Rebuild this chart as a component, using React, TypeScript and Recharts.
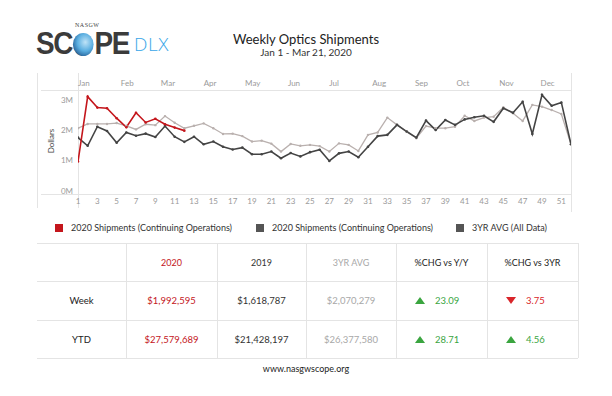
import React from 'react';
import { LineChart, Line, XAxis, YAxis } from 'recharts';

// ---- data (values in millions of dollars) ----
const weeks = Array.from({ length: 52 }, (_, i) => i + 1);
const shipments2020 = [0.97, 3.11, 2.75, 2.73, 2.40, 2.10, 2.58, 2.26, 2.38, 2.20, 2.09, 1.99];
const shipments2019 = [1.76, 1.49, 2.12, 1.98, 1.59, 1.93, 1.82, 1.89, 1.78, 2.14, 1.79, 1.62, 1.79, 1.54, 1.63, 1.46, 1.37, 1.43, 1.21, 1.21, 1.30, 1.08, 1.25, 1.14, 1.28, 1.36, 0.99, 1.24, 1.30, 1.11, 1.46, 1.81, 1.85, 2.18, 1.96, 1.76, 2.32, 2.01, 2.34, 2.18, 2.36, 2.43, 2.48, 2.28, 2.73, 2.58, 2.94, 1.88, 3.17, 2.81, 2.92, 1.54];
const avg3yr = [2.07, 2.21, 2.21, 2.21, 2.24, 2.15, 2.03, 2.20, 2.17, 2.47, 2.25, 2.07, 2.15, 2.23, 2.07, 1.88, 1.89, 1.81, 1.63, 1.66, 1.56, 1.30, 1.55, 1.49, 1.52, 1.48, 1.30, 1.57, 1.52, 1.32, 1.85, 1.93, 2.42, 2.18, 1.96, 1.74, 2.14, 2.07, 2.07, 2.12, 2.48, 2.31, 2.42, 2.45, 2.76, 2.56, 2.31, 2.84, 2.78, 2.67, 2.54, 1.54];

const monthNames = ['Jan', 'Feb', 'Mar', 'Apr', 'May', 'Jun', 'Jul', 'Aug', 'Sep', 'Oct', 'Nov', 'Dec'];
const monthStartDays = [1, 32, 61, 92, 122, 153, 183, 214, 245, 275, 306, 336];
const weekTicks = [1, 3, 5, 7, 9, 11, 13, 15, 17, 19, 21, 23, 25, 27, 29, 31, 33, 35, 37, 39, 41, 43, 45, 47, 49, 51];
const yTicks = [0, 1, 2, 3];

const legendItems = [
  { label: '2020 Shipments (Continuing Operations)', color: '#c4161c' },
  { label: '2020 Shipments (Continuing Operations)', color: '#555555' },
  { label: '3YR AVG (All Data)', color: '#555555' },
];

const tableHeaders = ['', '2020', '2019', '3YR AVG', '%CHG vs Y/Y', '%CHG vs 3YR'];
const tableRows = [
  { label: 'Week', v2020: '$1,992,595', v2019: '$1,618,787', avg: '$2,070,279', yy: { up: true, val: '23.09' }, y3: { up: false, val: '3.75' } },
  { label: 'YTD', v2020: '$27,579,689', v2019: '$21,428,197', avg: '$26,377,580', yy: { up: true, val: '28.71' }, y3: { up: true, val: '4.56' } },
];

const data = weeks.map((w, i) => ({
  week: w,
  s2020: i < shipments2020.length ? shipments2020[i] : null,
  s2019: shipments2019[i],
  avg: avg3yr[i],
}));

const monthTicks = monthStartDays.map((d) => (d - 1) / 7 + 1);

const FONT = 'Lato, "Open Sans", sans-serif';
const LINE = '#e4e4e4';

const colX = [37, 126, 217, 306, 396, 487, 578];
const rowY = [243, 281, 320, 358];

function Arrow({ up }: { up: boolean }) {
  return (
    <svg width={10} height={7} style={{ marginRight: 10, verticalAlign: 'middle' }}>
      {up ? <polygon points="0,7 10,7 5,0" fill="#3aa53f" /> : <polygon points="0,0 10,0 5,7" fill="#d9252a" />}
    </svg>
  );
}

export default function App() {
  const abs = (s: React.CSSProperties): React.CSSProperties => ({ position: 'absolute', ...s });
  const cellText = (i: number) => {
    if (i === 1) return '#c4161c';
    if (i === 3) return '#a8a8a8';
    return '#333';
  };
  const tickStyle = { fontSize: 8, fill: '#9a9a9a', fontFamily: FONT };
  return (
    <div style={abs({ left: 0, top: 0, width: 612, height: 396, background: '#fff', fontFamily: FONT, overflow: 'hidden' })}>
      {/* Logo */}
      <div style={abs({ left: 75, top: 22, fontSize: 6, lineHeight: '7px', color: '#444', fontFamily: '"Liberation Serif", serif', letterSpacing: 0.5 })}>NASGW</div>
      <div style={abs({ left: 36, top: 32, height: 24, fontSize: 31, fontWeight: 700, color: '#3b3b3b', fontFamily: '"Liberation Sans", Arial, sans-serif', letterSpacing: -1.5, lineHeight: '24px', display: 'flex', alignItems: 'center', transform: 'scaleX(0.9)', transformOrigin: 'left center' })}>
        <span>SC</span>
        <span style={{ display: 'inline-block', width: 23, height: 23, borderRadius: 12, background: 'radial-gradient(circle at 60% 40%, #bfe3f7 0%, #5aaee0 45%, #2f6fa5 72%, #3b3b3b 76%)', margin: '0 1px' }} />
        <span>PE</span>
      </div>
      <div style={abs({ left: 134, top: 32, fontSize: 19, fontWeight: 300, color: '#3aa6e8', fontFamily: '"Open Sans", sans-serif', letterSpacing: 0.5, lineHeight: '24px' })}>DLX</div>

      {/* Title */}
      <div style={abs({ left: 0, width: 612, top: 31, textAlign: 'center', fontSize: 13, color: '#222' })}>Weekly Optics Shipments</div>
      <div style={abs({ left: 0, width: 612, top: 46, textAlign: 'center', fontSize: 10, color: '#333' })}>Jan 1 - Mar 21, 2020</div>

      {/* Chart frame lines */}
      <div style={abs({ left: 37, top: 73, width: 1, height: 135, background: LINE })} />
      <div style={abs({ left: 78, top: 73, width: 1, height: 135, background: LINE })} />
      <div style={abs({ left: 571, top: 73, width: 1, height: 139, background: LINE })} />
      <div style={abs({ left: 41, top: 90, width: 530, height: 1, background: LINE })} />
      <div style={abs({ left: 41, top: 194, width: 530, height: 1, background: LINE })} />
      <div style={abs({ left: 51, top: 141, transform: 'translate(-50%, -50%) rotate(-90deg)', fontSize: 8, color: '#444', whiteSpace: 'nowrap' })}>Dollars</div>

      <div style={abs({ left: 0, top: 0 })}>
        <LineChart width={612} height={215} data={data} margin={{ top: 76, right: 41, left: 48, bottom: 5 }}>
          <XAxis dataKey="week" type="number" domain={[1, 52]} ticks={weekTicks} interval={0} height={16} tickSize={0} tickMargin={4} axisLine={false} tickLine={false} tick={tickStyle} allowDataOverflow />
          <XAxis xAxisId="month" orientation="top" dataKey="week" type="number" domain={[1, 52]} ticks={monthTicks} interval={0} height={14} tickSize={0} tickMargin={4} axisLine={false} tickLine={false} tickFormatter={(v: number) => monthNames[monthTicks.indexOf(v)] ?? ''} tick={{ ...tickStyle, textAnchor: 'start' }} allowDataOverflow />
          <YAxis type="number" domain={[-0.1, 3.33]} ticks={yTicks} width={30} tickSize={0} tickMargin={5} axisLine={false} tickLine={false} tickFormatter={(v: number) => `${v}M`} tick={tickStyle} allowDataOverflow />
          <Line dataKey="avg" stroke="#b9b0ae" strokeWidth={1.3} dot={{ r: 1.2, fill: '#b9b0ae', stroke: 'none' }} isAnimationActive={false} />
          <Line dataKey="s2019" stroke="#444444" strokeWidth={1.6} dot={{ r: 1.3, fill: '#444444', stroke: 'none' }} isAnimationActive={false} />
          <Line dataKey="s2020" stroke="#c4161c" strokeWidth={1.6} dot={{ r: 1.3, fill: '#c4161c', stroke: 'none' }} isAnimationActive={false} connectNulls={false} />
        </LineChart>
      </div>

      {/* Legend */}
      {legendItems.map((it, i) => {
        const lx = [55, 256, 456][i];
        return (
          <div key={i} style={abs({ left: lx, top: 222, display: 'flex', alignItems: 'center', fontSize: 9, color: '#333', whiteSpace: 'nowrap' })}>
            <span style={{ display: 'inline-block', width: 8, height: 8, background: it.color, marginRight: 8 }} />
            <span>{it.label}</span>
          </div>
        );
      })}

      {/* Table lines */}
      {rowY.map((y, i) => (
        <div key={'h' + i} style={abs({ left: 37, top: y, width: 541, height: 1, background: LINE })} />
      ))}
      {colX.slice(1).map((x, i) => (
        <div key={'v' + i} style={abs({ left: x, top: 243, width: 1, height: 115, background: LINE })} />
      ))}

      {/* Table header */}
      {tableHeaders.map((h, i) => (
        <div key={'th' + i} style={abs({ left: colX[i], width: colX[i + 1] - colX[i], top: rowY[0], height: rowY[1] - rowY[0], display: 'flex', alignItems: 'center', justifyContent: 'center', fontSize: 9, color: i === 4 || i === 5 ? '#222' : cellText(i) })}>{h}</div>
      ))}
      {tableRows.map((r, ri) => {
        const top = rowY[ri + 1];
        const h = rowY[ri + 2] - rowY[ri + 1];
        const cells = [r.label, r.v2020, r.v2019, r.avg];
        return (
          <React.Fragment key={'r' + ri}>
            {cells.map((c, ci) => (
              <div key={ci} style={abs({ left: colX[ci], width: colX[ci + 1] - colX[ci], top, height: h, display: 'flex', alignItems: 'center', justifyContent: 'center', fontSize: 9.5, color: ci === 0 ? '#222' : cellText(ci) })}>{c}</div>
            ))}
            {[r.yy, r.y3].map((p, pi) => (
              <div key={'p' + pi} style={abs({ left: colX[4 + pi] + 19, top, height: h, display: 'flex', alignItems: 'center', fontSize: 9.5, color: p.up ? '#3aa53f' : '#d9252a' })}>
                <Arrow up={p.up} />
                <span>{p.val}</span>
              </div>
            ))}
          </React.Fragment>
        );
      })}

      {/* Footer */}
      <div style={abs({ left: 0, width: 612, top: 363, textAlign: 'center', fontSize: 9, color: '#222' })}>www.nasgwscope.org</div>
    </div>
  );
}
